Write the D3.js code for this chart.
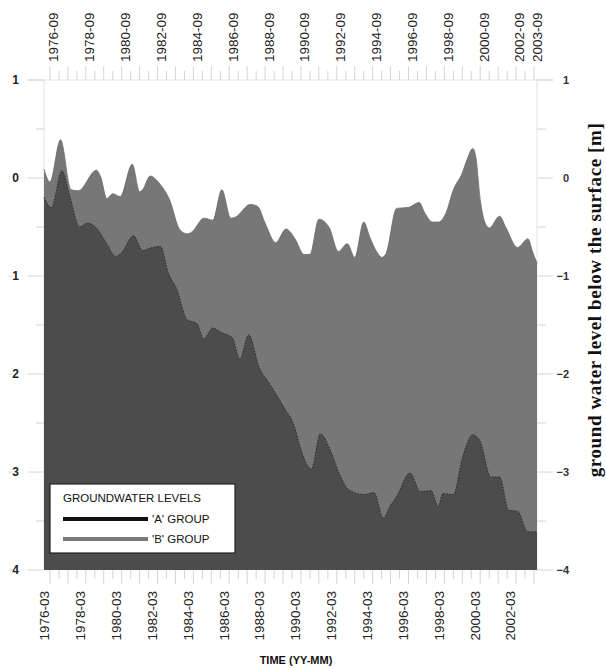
<!DOCTYPE html>
<html>
<head>
<meta charset="utf-8">
<script src="https://cdn.jsdelivr.net/npm/d3@7"></script>
<style>
  html, body { margin: 0; padding: 0; background: #fff; }
  svg { display: block; }
</style>
</head>
<body>
<svg id="chart" width="606" height="668"></svg>
<script>
// ---- data ----
const bDates = ["1976-03","1976-07","1977-02","1977-09","1978-02","1979-02","1979-05","1979-09","1980-01","1980-06",
  "1981-02","1981-07","1981-09","1982-02","1982-08","1983-03","1983-10","1984-03","1984-06","1985-02",
  "1985-08","1986-02","1986-08","1986-11","1987-09","1988-02","1988-07","1989-02","1989-09","1990-03",
  "1990-09","1991-01","1991-07","1992-02","1992-08","1993-02","1993-07","1994-01","1994-05","1994-10",
  "1995-01","1995-04","1995-11","1996-07","1997-02","1997-06","1997-11","1998-03","1998-08","1999-01",
  "1999-07","1999-10","2000-02","2000-04","2000-07","2000-10","2001-01","2001-08","2001-12","2002-08",
  "2003-03","2003-06","2003-09"];
const bValues = [0.09,-0.04,0.39,-0.12,-0.13,0.08,0.01,-0.21,-0.16,-0.19,
  0.14,-0.14,-0.12,0.02,-0.05,-0.22,-0.53,-0.57,-0.55,-0.41,
  -0.43,-0.12,-0.41,-0.40,-0.27,-0.29,-0.46,-0.66,-0.52,-0.62,
  -0.78,-0.78,-0.42,-0.51,-0.75,-0.67,-0.81,-0.45,-0.60,-0.76,
  -0.81,-0.77,-0.31,-0.30,-0.25,-0.36,-0.45,-0.45,-0.36,-0.12,
  0.05,0.18,0.30,0.22,-0.22,-0.45,-0.51,-0.39,-0.50,-0.71,
  -0.62,-0.75,-0.87];

const aDates = ["1976-03","1976-08","1977-03","1977-08","1978-03","1978-08","1979-02","1979-09","1980-03","1980-07",
  "1981-03","1981-09","1982-03","1982-09","1983-02","1983-08","1984-03","1984-09","1985-02","1985-08",
  "1986-02","1986-09","1987-02","1987-08","1988-03","1988-10","1989-08","1990-03","1990-06","1991-02",
  "1991-08","1992-03","1992-09","1993-03","1994-01","1994-08","1995-02","1995-07","1995-11","1996-08",
  "1997-03","1997-10","1998-03","1998-06","1999-01","1999-07","2000-02","2000-07","2001-02","2001-08",
  "2002-02","2002-08","2003-03","2003-09"];
const aValues = [-0.20,-0.30,0.075,-0.17,-0.50,-0.46,-0.51,-0.67,-0.80,-0.76,
  -0.59,-0.74,-0.71,-0.70,-0.96,-1.14,-1.45,-1.48,-1.64,-1.53,
  -1.58,-1.63,-1.85,-1.60,-1.93,-2.10,-2.35,-2.55,-2.72,-2.97,
  -2.61,-2.79,-3.03,-3.18,-3.23,-3.21,-3.47,-3.34,-3.25,-3.01,
  -3.20,-3.19,-3.35,-3.22,-3.23,-2.86,-2.62,-2.69,-3.05,-3.05,
  -3.39,-3.40,-3.61,-3.61];

const bottomTickLabels = ["1976-03","1978-03","1980-03","1982-03","1984-03","1986-03","1988-03","1990-03",
  "1992-03","1994-03","1996-03","1998-03","2000-03","2002-03"];
const topTickLabels = ["1976-09","1978-09","1980-09","1982-09","1984-09","1986-09","1988-09","1990-09",
  "1992-09","1994-09","1996-09","1998-09","2000-09","2002-09","2003-09"];
const yTickValues = [1, 0, -1, -2, -3, -4];
const legendTitle = "GROUNDWATER LEVELS";
const seriesNames = ["'A' GROUP", "'B' GROUP"];
const xTitle = "TIME (YY-MM)";
const yTitle = "ground water level below the surface [m]";

// ---- drawing ----
const parse = d3.timeParse("%Y-%m");
const svg = d3.select("#chart");
const L = 44, R = 537, T = 80, B = 570;

const x = d3.scaleTime().domain([parse("1976-03"), parse("2003-09")]).range([L, R]);
const y = d3.scaleLinear().domain([1, -4]).range([T, B]);

const gridCol = "#d4d4d4";
const sans = "Arial, 'Liberation Sans', sans-serif";

// frame lines (faint)
svg.append("line").attr("x1", 28).attr("x2", 553).attr("y1", T).attr("y2", T)
  .attr("stroke", "#e2e2e2").attr("stroke-width", 1);
svg.append("line").attr("x1", L).attr("x2", L).attr("y1", T).attr("y2", B)
  .attr("stroke", "#e2e2e2");
svg.append("line").attr("x1", R).attr("x2", R).attr("y1", T).attr("y2", B)
  .attr("stroke", "#e2e2e2");

// areas
const bData = bDates.map((d, i) => ({ date: parse(d), v: bValues[i] }));
const aData = aDates.map((d, i) => ({ date: parse(d), v: aValues[i] }));

const area = d3.area().x(d => x(d.date)).y0(y(-4)).y1(d => y(d.v)).curve(d3.curveMonotoneX);
const line = d3.line().x(d => x(d.date)).y(d => y(d.v)).curve(d3.curveMonotoneX);

svg.append("path").datum(bData).attr("d", area).attr("fill", "#777777");
svg.append("path").datum(bData).attr("d", line).attr("fill", "none")
  .attr("stroke", "#6a6a6a").attr("stroke-width", 0.8);
svg.append("path").datum(aData).attr("d", area).attr("fill", "#4c4c4c");
svg.append("path").datum(aData).attr("d", line).attr("fill", "none")
  .attr("stroke", "#262626").attr("stroke-width", 0.9).attr("stroke-dasharray", "1.5,1.5");

// minor time ticks every 6 months (top and bottom)
const halfYears = d3.timeMonth.every(6).range(parse("1976-03"), d3.timeMonth.offset(parse("2003-09"), 1));
const bottomAxis = d3.axisBottom(x)
  .tickValues(bottomTickLabels.map(parse))
  .tickFormat(d3.timeFormat("%Y-%m"))
  .tickSize(0).tickPadding(0);
const gb = svg.append("g").attr("transform", `translate(0,${B})`).call(bottomAxis);
gb.select(".domain").remove();
gb.selectAll("text")
  .attr("transform", "rotate(-90)")
  .attr("text-anchor", "end")
  .attr("x", -21).attr("y", 0).attr("dy", "0.36em")
  .attr("font-family", sans)
  .attr("font-size", 13.5).attr("fill", "#222");

const topAxis = d3.axisTop(x)
  .tickValues(topTickLabels.map(parse))
  .tickFormat(d3.timeFormat("%Y-%m"))
  .tickSize(0).tickPadding(0);
const gt = svg.append("g").attr("transform", `translate(0,${T})`).call(topAxis);
gt.select(".domain").remove();
gt.selectAll("text")
  .attr("transform", "rotate(-90)")
  .attr("text-anchor", "start")
  .attr("x", 18).attr("y", 0).attr("dy", "0.36em")
  .attr("font-family", sans)
  .attr("font-size", 13.5).attr("fill", "#222");

svg.append("g").selectAll("line").data(halfYears).join("line")
  .attr("x1", d => x(d)).attr("x2", d => x(d))
  .attr("y1", B).attr("y2", (d, i) => B + (i % 2 === 0 ? 14 : 9))
  .attr("stroke", gridCol).attr("stroke-width", 1);
svg.append("g").selectAll("line").data(halfYears).join("line")
  .attr("x1", d => x(d)).attr("x2", d => x(d))
  .attr("y1", T).attr("y2", (d, i) => T - (i % 2 === 0 ? 14 : 9))
  .attr("stroke", gridCol).attr("stroke-width", 1);

// y axes
const halfUnits = d3.range(1, -4.01, -0.5);
svg.append("g").selectAll("line").data(halfUnits).join("line")
  .attr("x1", d => Number.isInteger(d) ? 28 : 36).attr("x2", L)
  .attr("y1", d => y(d)).attr("y2", d => y(d)).attr("stroke", gridCol);
svg.append("g").selectAll("line").data(halfUnits).join("line")
  .attr("x1", R).attr("x2", d => Number.isInteger(d) ? 553 : 546)
  .attr("y1", d => y(d)).attr("y2", d => y(d)).attr("stroke", gridCol);

const leftAxis = d3.axisLeft(y).tickValues(yTickValues).tickSize(0).tickPadding(0);
const gl = svg.append("g").attr("transform", `translate(${L},0)`).call(leftAxis);
gl.select(".domain").remove();
gl.selectAll("text").attr("x", -25).attr("font-family", sans)
  .attr("font-size", 12).attr("font-weight", "bold").attr("fill", "#222")
  .text(null)
  .each(function(d) {
    const t = d3.select(this);
    if (d < 0) t.append("tspan").attr("fill", "#e4e4e4").text("-");
    t.append("tspan").text(Math.abs(d));
  });

const rightAxis = d3.axisRight(y).tickValues(yTickValues).tickFormat(d3.format("d")).tickSize(0).tickPadding(0);
const gr = svg.append("g").attr("transform", `translate(${R},0)`).call(rightAxis);
gr.select(".domain").remove();
gr.selectAll("text").attr("x", 32).attr("text-anchor", "end")
  .attr("font-family", sans)
  .attr("font-size", 11).attr("font-weight", "bold").attr("fill", "#333");

// titles
svg.append("text").attr("x", 296).attr("y", 664).attr("text-anchor", "middle")
  .attr("font-family", sans).attr("font-weight", "bold")
  .attr("font-size", 11).attr("fill", "#111").text(xTitle);
svg.append("text").attr("transform", "translate(601,300) rotate(-90)").attr("text-anchor", "middle")
  .attr("font-family", "'Liberation Serif', 'Times New Roman', serif").attr("font-weight", "bold")
  .attr("font-size", 19).attr("letter-spacing", 0.6).attr("fill", "#111").text(yTitle);

// legend
const lg = svg.append("g");
lg.append("rect").attr("x", 50).attr("y", 484).attr("width", 185).attr("height", 69)
  .attr("fill", "#fff").attr("stroke", "#222").attr("stroke-width", 1.2);
lg.append("text").attr("x", 63).attr("y", 502).attr("font-family", sans)
  .attr("font-size", 11.5).attr("fill", "#111").text(legendTitle);
const legendColors = ["#111", "#7a7a7a"];
seriesNames.forEach((name, i) => {
  const yy = 519 + i * 20;
  lg.append("line").attr("x1", 63).attr("x2", 148).attr("y1", yy).attr("y2", yy)
    .attr("stroke", legendColors[i]).attr("stroke-width", 4);
  lg.append("text").attr("x", 152).attr("y", yy + 4).attr("font-family", sans)
    .attr("font-size", 11.5).attr("fill", "#111").text(name);
});
</script>
</body>
</html>
